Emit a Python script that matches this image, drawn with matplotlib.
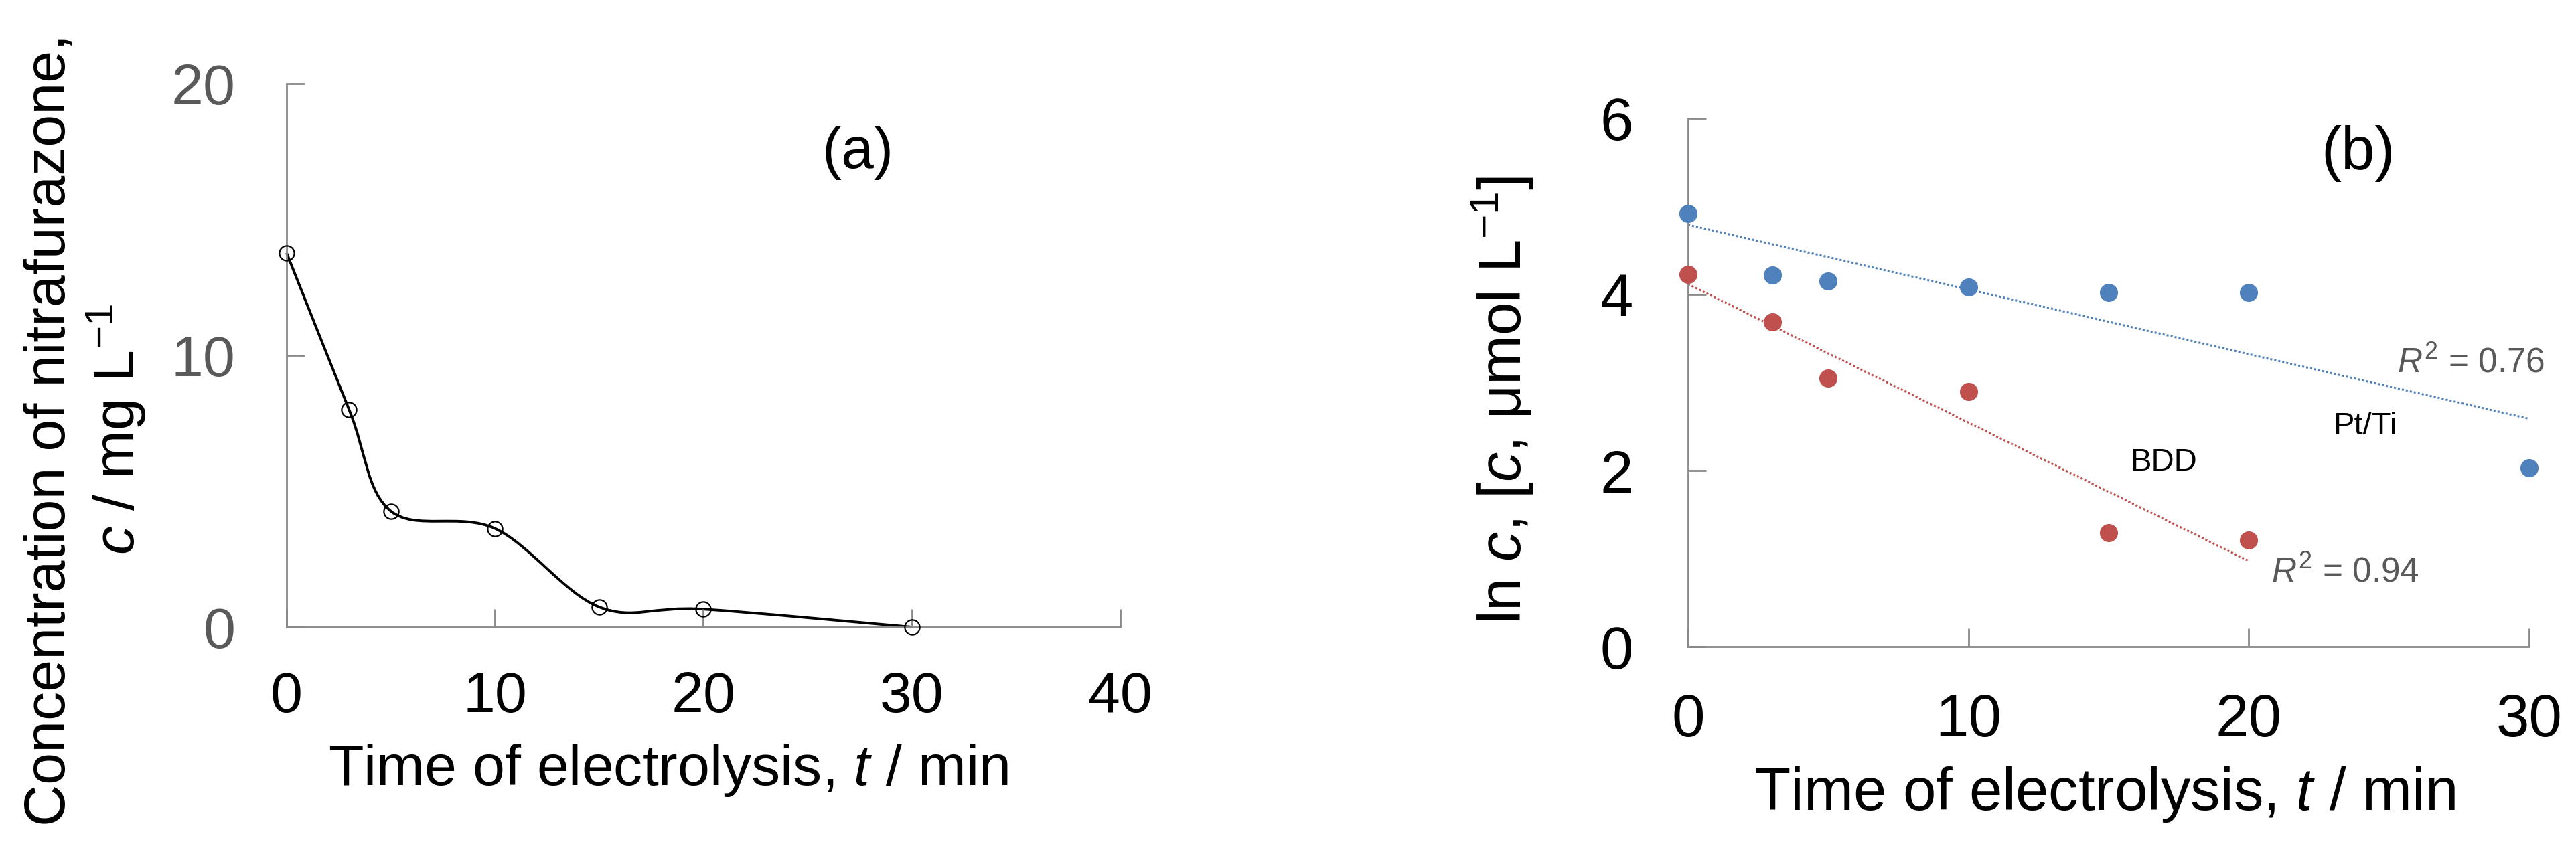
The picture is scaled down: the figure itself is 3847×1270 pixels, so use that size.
import numpy as np
import matplotlib
matplotlib.use("Agg")
import matplotlib.pyplot as plt
from matplotlib.path import Path
from matplotlib.patches import PathPatch

plt.rcParams['font.family'] = ['Liberation Sans', 'DejaVu Sans']
plt.rcParams['mathtext.fontset'] = 'custom'
plt.rcParams['mathtext.rm'] = 'Liberation Sans'
plt.rcParams['mathtext.it'] = 'Liberation Sans:italic'
plt.rcParams['mathtext.bf'] = 'Liberation Sans:bold'

# ---------------- data ----------------
# (a) concentration of nitrafurazone vs time
time_a = [0, 3, 5, 10, 15, 20, 30]
conc_a = [13.77, 8.0, 4.27, 3.63, 0.74, 0.66, 0.0]

# (b) ln c vs time
time_pt = [0, 3, 5, 10, 15, 20, 30]
lnc_pt = [4.92, 4.22, 4.15, 4.085, 4.02, 4.02, 2.03]
time_bdd = [0, 3, 5, 10, 15, 20]
lnc_bdd = [4.23, 3.69, 3.05, 2.90, 1.29, 1.21]

xticks_a = [0, 10, 20, 30, 40]
yticks_a = [0, 10, 20]
xticks_b = [0, 10, 20, 30]
yticks_b = [0, 2, 4, 6]

r2_pt = "0.76"
r2_bdd = "0.94"

# ---------------- style ----------------
W, H, DPI = 3848, 1270, 100
SPINE = '#898989'
GRAYTXT = '#595959'
BLUE = '#4F81BD'
RED = '#C0504D'
FS_TICK = 62
FS_LAB = 62

fig = plt.figure(figsize=(W / DPI, H / DPI), dpi=DPI)

def px_axes(l, t, r, b):
    return fig.add_axes([l / W, 1 - b / H, (r - l) / W, (b - t) / H])

def style_axes(ax, ycol):
    for s in ['top', 'right']:
        ax.spines[s].set_visible(False)
    for s in ['left', 'bottom']:
        ax.spines[s].set_color(SPINE)
        ax.spines[s].set_linewidth(2.0)
    ax.tick_params(direction='in', length=19.5, width=2.0, color=SPINE,
                   labelsize=FS_TICK)
    ax.tick_params(axis='y', labelcolor=ycol)
    ax.tick_params(axis='x', labelcolor='black')

# ---------------- panel (a) ----------------
axa = px_axes(428, 125, 1673, 937)
axa.set_xlim(0, 40)
axa.set_ylim(0, 20)
axa.set_xticks(xticks_a)
axa.set_yticks(yticks_a)
style_axes(axa, GRAYTXT)
axa.tick_params(axis='x', pad=47)
axa.tick_params(axis='y', pad=55)

# smooth (Catmull-Rom style Bezier) curve through the points
P = np.column_stack([time_a, conc_a]).astype(float)
ext = np.vstack([P[0], P, P[-1]])
verts = [tuple(P[0])]
codes = [Path.MOVETO]
for i in range(len(P) - 1):
    p0, p1, p2, p3 = ext[i], ext[i + 1], ext[i + 2], ext[i + 3]
    c1 = p1 + (p2 - p0) / 6.0
    c2 = p2 - (p3 - p1) / 6.0
    verts += [tuple(c1), tuple(c2), tuple(p2)]
    codes += [Path.CURVE4] * 3
axa.add_patch(PathPatch(Path(verts, codes), facecolor='none',
                        edgecolor='black', lw=2.8, transform=axa.transData,
                        clip_on=False))
axa.plot(time_a, conc_a, linestyle='none', marker='o', ms=16,
         mfc='none', mec='black', mew=1.6, clip_on=False, zorder=3)

axa.text(27.4, 17.45, '(a)', fontsize=63, ha='center', va='center')

fig.text(998 / W, 1 - 1173 / H, r'Time of electrolysis, $\mathit{t}$ / min',
         fontsize=FS_LAB, ha='center', va='baseline')
fig.text(128 / W, 1 - 642 / H,
         'Concentration of nitrafurazone,\n' + r'$\mathit{c}$ / mg L$^{\mathrm{-1}}$',
         fontsize=FS_LAB, rotation=90, ha='center', va='center',
         multialignment='center', linespacing=1.15)

# ---------------- panel (b) ----------------
axb = px_axes(2521, 177, 3777, 966)
axb.set_xlim(0, 30)
axb.set_ylim(0, 6)
axb.set_xticks(xticks_b)
axb.set_yticks(yticks_b)
style_axes(axb, 'black')
axb.tick_params(axis='x', pad=50)
axb.tick_params(axis='y', pad=59, labelsize=64)
axb.tick_params(axis='x', labelsize=64)

# linear trend lines (least squares)
kp = np.polyfit(time_pt, lnc_pt, 1)
kb = np.polyfit(time_bdd, lnc_bdd, 1)
xp = np.array([min(time_pt), max(time_pt)])
xb = np.array([min(time_bdd), max(time_bdd)])
axb.plot(xp, np.polyval(kp, xp), color=BLUE, lw=2.2,
         linestyle=(0, (1, 1)), dash_capstyle='butt', zorder=2)
axb.plot(xb, np.polyval(kb, xb), color=RED, lw=2.2,
         linestyle=(0, (1, 1)), dash_capstyle='butt', zorder=2)

axb.plot(time_pt, lnc_pt, linestyle='none', marker='o', ms=19.5,
         mfc=BLUE, mec=BLUE, mew=0, clip_on=False, zorder=4)
axb.plot(time_bdd, lnc_bdd, linestyle='none', marker='o', ms=19.5,
         mfc=RED, mec=RED, mew=0, clip_on=False, zorder=4)

axb.text(23.9, 5.6, '(b)', fontsize=65, ha='center', va='center')
axb.text(25.3, 3.22, r'$\mathit{R}^{\mathrm{2}}$ = ' + r2_pt, fontsize=37,
         color=GRAYTXT, ha='left', va='center')
axb.text(20.8, 0.84, r'$\mathit{R}^{\mathrm{2}}$ = ' + r2_bdd, fontsize=37,
         color=GRAYTXT, ha='left', va='center')
axb.text(24.15, 2.50, 'Pt/Ti', fontsize=34, ha='center', va='center')
axb.text(16.97, 2.09, 'BDD', fontsize=34, ha='center', va='center')

fig.text(3143 / W, 1 - 1210 / H, r'Time of electrolysis, $\mathit{t}$ / min',
         fontsize=64, ha='center', va='baseline')
fig.text(2243 / W, 1 - 597 / H,
         r'ln $\mathit{c}$, [$\mathit{c}$, μmol L$^{\mathrm{-1}}$]',
         fontsize=64, rotation=90, ha='center', va='center')

fig.savefig('out.png', dpi=DPI)
